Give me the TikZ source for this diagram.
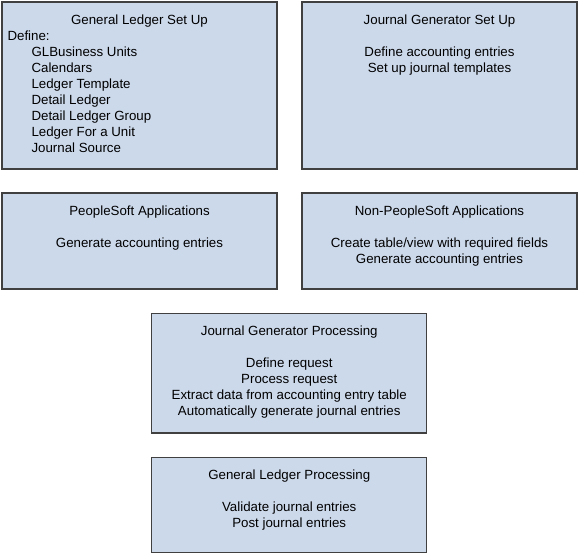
\documentclass[tikz,border=0pt]{standalone}
\usepackage{fontspec}
\setmainfont{Liberation Sans}
\usetikzlibrary{positioning}
\definecolor{boxblue}{RGB}{204,217,235}
\definecolor{boxline}{RGB}{64,64,64}
\tikzset{
  stage/.style={draw=boxline, line width=1.3pt, fill=boxblue, minimum width=275pt, inner sep=0pt},
  txt/.style={inner sep=0pt, align=center, font=\fontsize{13.3}{16}\selectfont},
}
\begin{document}
\begin{tikzpicture}[x=1pt,y=-1pt]
\useasboundingbox (0,0) rectangle (579,555);

% set up
\node[stage, minimum height=167pt] (glsetup) at (139.5,85.5) {};
\node[stage, minimum height=167pt] (jgsetup) at (439.5,85.5) {};
\node[txt, below=13pt of glsetup.north] (gltitle) {General Ledger Set Up};
\node[txt, align=left, anchor=north west] (gllist) at ([xshift=6pt,yshift=-29pt]glsetup.north west)
  {Define:\\
   \hspace*{24pt}GLBusiness Units\\
   \hspace*{24pt}Calendars\\
   \hspace*{24pt}Ledger Template\\
   \hspace*{24pt}Detail Ledger\\
   \hspace*{24pt}Detail Ledger Group\\
   \hspace*{24pt}Ledger For a Unit\\
   \hspace*{24pt}Journal Source};
\node[txt, below=13pt of jgsetup.north] (jgtext)
  {Journal Generator Set Up\\[16pt]Define accounting entries\\Set up journal templates};

% applications
\node[stage, minimum height=96pt] (psapps) at (139.5,241) {};
\node[stage, minimum height=96pt] (nonps) at (439.5,241) {};
\node[txt, below=13pt of psapps.north] (pstext)
  {PeopleSoft Applications\\[16pt]Generate accounting entries};
\node[txt, below=13pt of nonps.north] (nonpstext)
  {Non-PeopleSoft Applications\\[16pt]Create table/view with required fields\\Generate accounting entries};

% processing
\node[stage, minimum height=119.5pt] (jgproc) at (289.25,373.25) {};
\node[stage, minimum height=95pt] (glproc) at (289.25,505) {};
\node[txt, below=13pt of jgproc.north] (jgproctext)
  {Journal Generator Processing\\[16pt]Define request\\Process request\\Extract data from accounting entry table\\Automatically generate journal entries};
\node[txt, below=13pt of glproc.north] (glproctext)
  {General Ledger Processing\\[16pt]Validate journal entries\\Post journal entries};
\end{tikzpicture}
\end{document}
